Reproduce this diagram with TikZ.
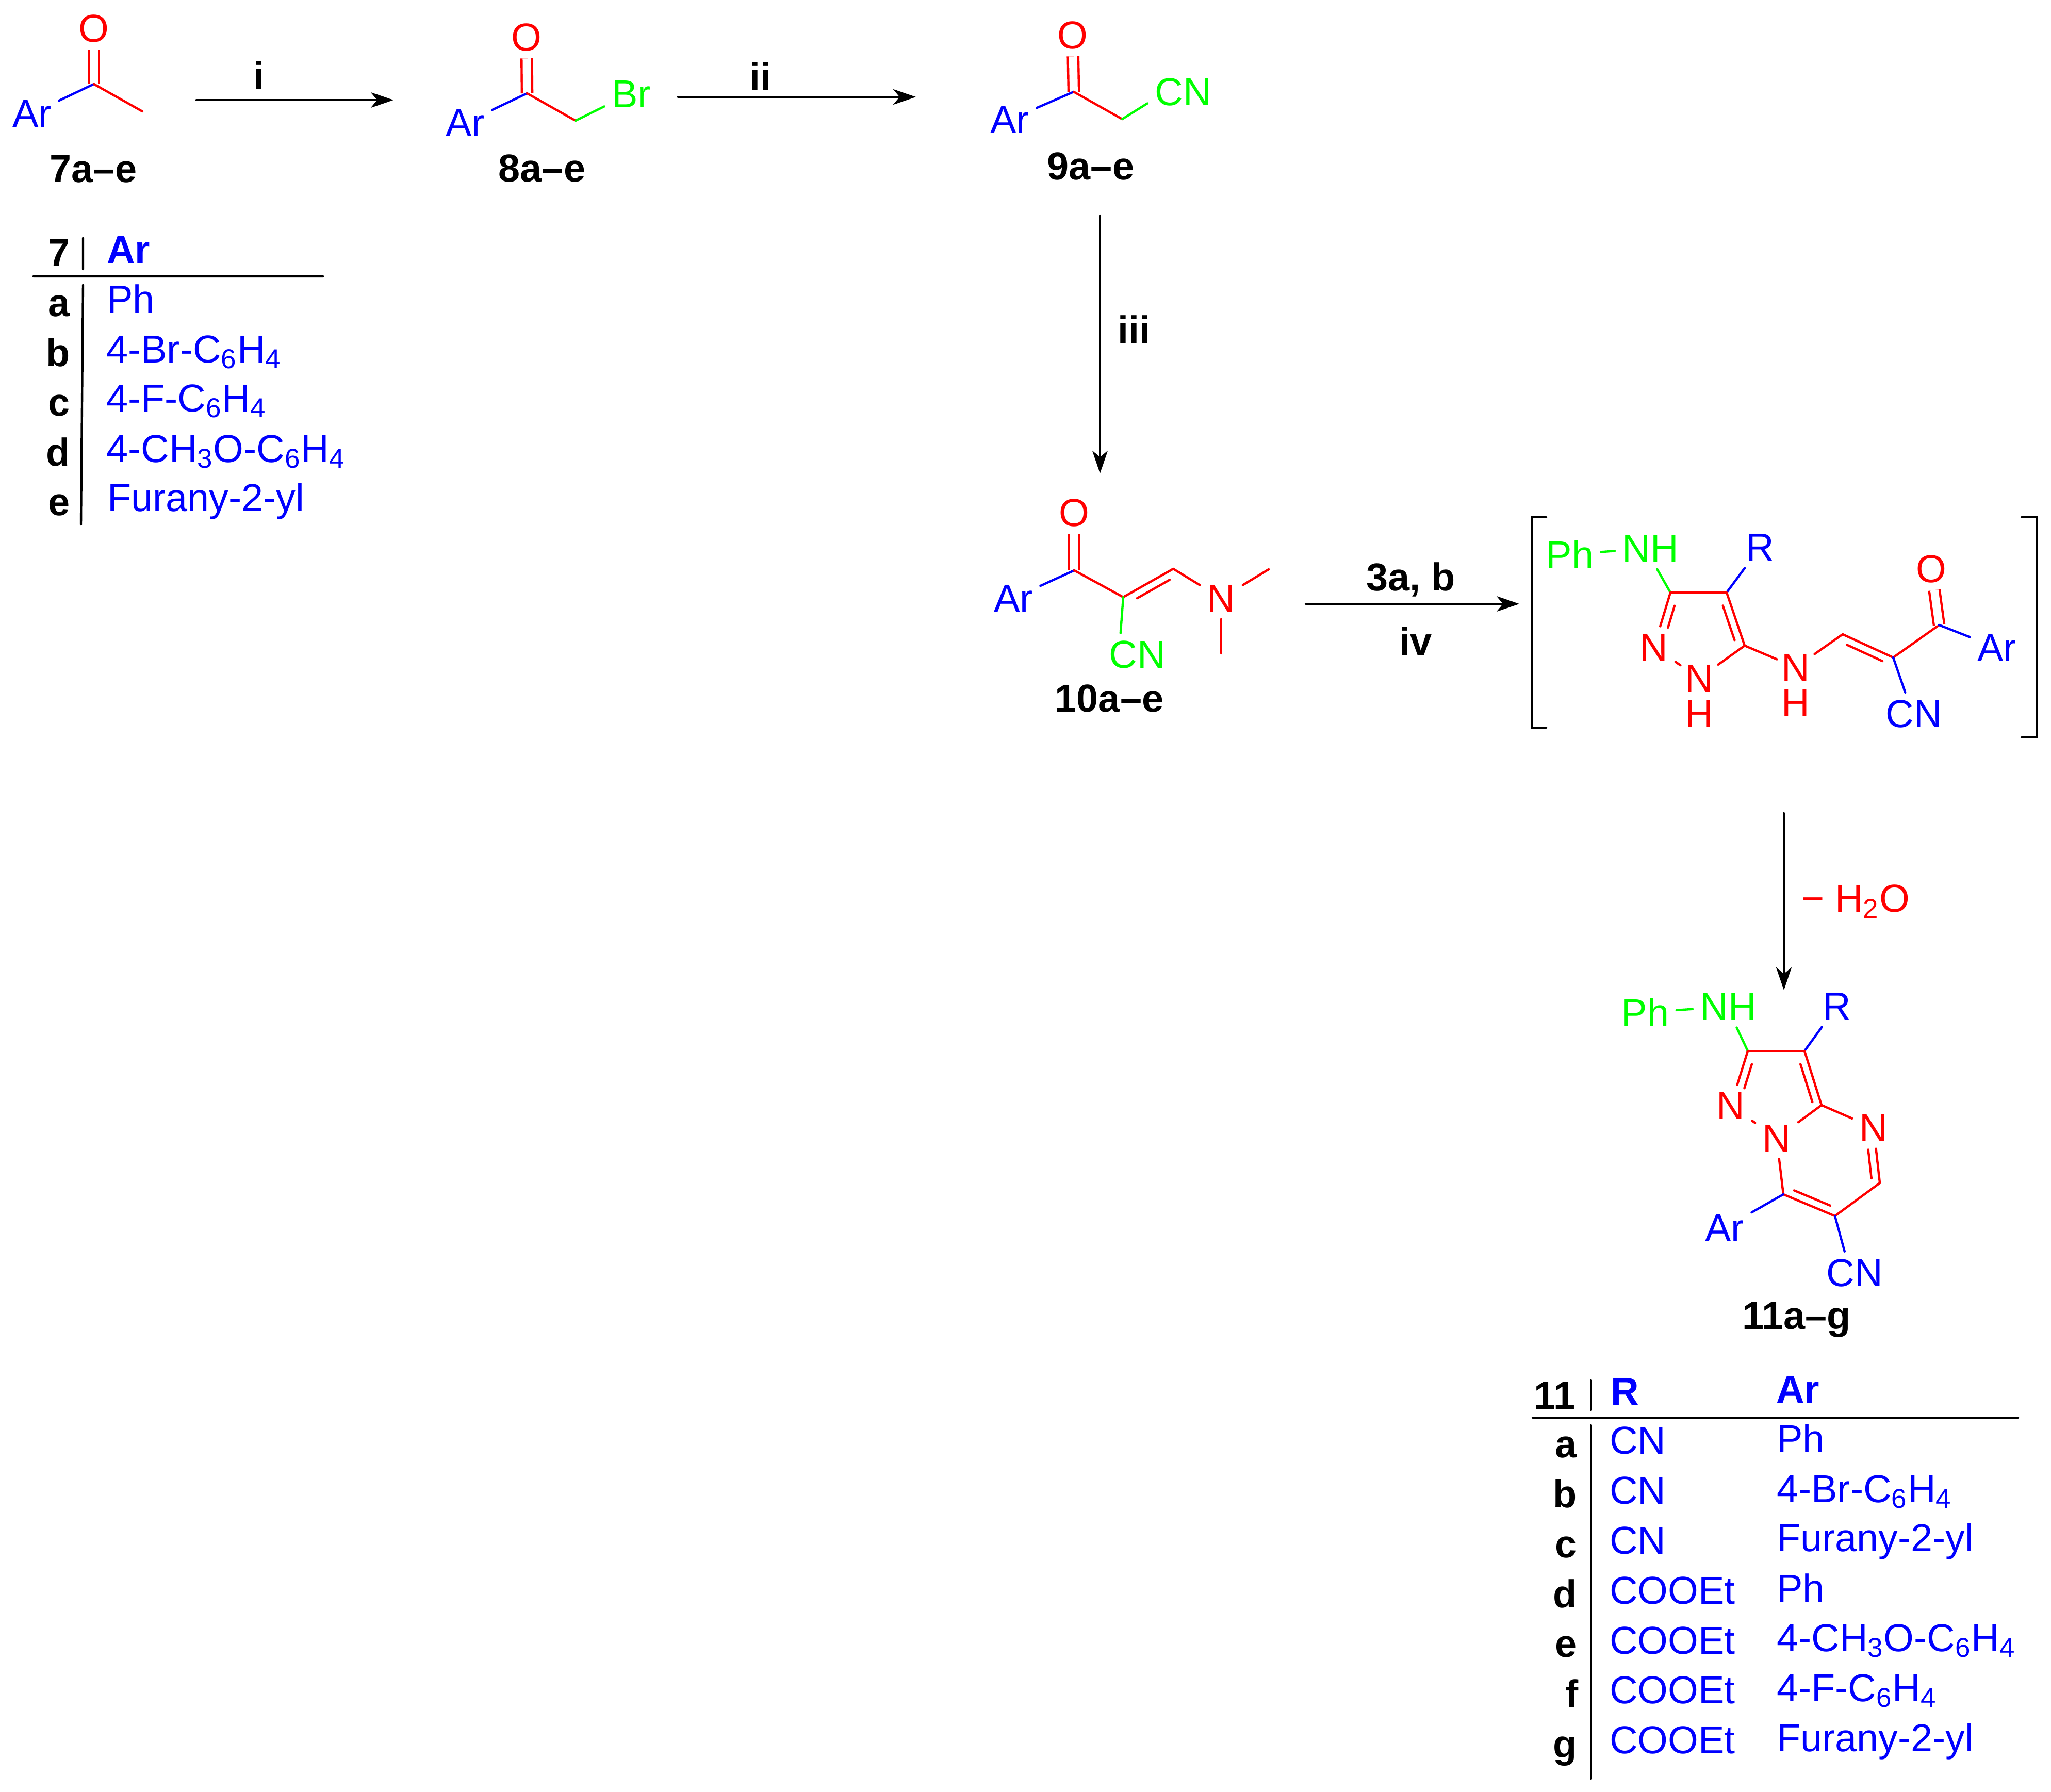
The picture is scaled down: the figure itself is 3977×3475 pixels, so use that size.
\documentclass[tikz,border=0pt]{standalone}
\usepackage{fontspec}
\setmainfont{Liberation Sans}
\usepackage{tikz}
\usetikzlibrary{arrows.meta}
\usetikzlibrary{calc}
\newcommand{\innerbond}[5]{\draw[red] ($(#1)!#3!(#2)!#5!90:(#2)$) -- ($(#1)!#4!(#2)!#5!90:(#2)$);}
\newcommand{\sbs}[1]{\textsubscript{#1}}
\tikzset{
  every node/.style={font=\fontsize{21.5}{24}\selectfont},
  labred/.style={text=red,inner sep=3.5pt},
  labblue/.style={text=blue,inner sep=3.5pt},
  labgreen/.style={text=green,inner sep=3.5pt},
  labnh/.style={text=red,inner sep=2pt},
  labh/.style={text=red,inner sep=0pt},
  cpd/.style={font=\fontsize{21.5}{24}\selectfont\bfseries,inner sep=0pt},
  tabkey/.style={font=\fontsize{21.5}{24}\selectfont\bfseries,anchor=base east,inner sep=0pt},
  tabhead/.style={font=\fontsize{21.5}{24}\selectfont\bfseries,text=blue,anchor=base west,inner sep=0pt},
  tabtext/.style={text=blue,anchor=base west,inner sep=0pt},
  rxn/.style={->,>={Stealth[length=12.5pt,width=8.5pt,inset=3.5pt]}},
  dbl/.style={double,double distance=4.5pt,line cap=butt}
}
\begin{document}
\begin{tikzpicture}[x=0.01cm,y=-0.01cm,line width=1.25pt,line cap=round]
  \useasboundingbox (0,0) rectangle (3977,3475);

  \coordinate (c7) at (182,163);
  \coordinate (m7) at (276,216);
  \node[labred]  (o7)  at (182,55)  {O};
  \node[labblue] (ar7) at (62,220)  {Ar};
  \node[cpd]     (n7)  at (181,328) {7a–e};
  \path (c7) edge[red,dbl] (o7) edge[blue] (ar7) edge[red] (m7);

  \coordinate (c8) at (1022,181);
  \coordinate (m8) at (1116,234);
  \node[labred]   (o8)  at (1021,72)  {O};
  \node[labblue]  (ar8) at (902,238)  {Ar};
  \node[labgreen] (br8) at (1224,182) {Br};
  \node[cpd]      (n8)  at (1051,326) {8a–e};
  \path (c8) edge[red,dbl] (o8) edge[blue] (ar8) edge[red] (m8) (m8) edge[green] (br8.205);

  \coordinate (c9) at (2082,178);
  \coordinate (m9) at (2176,231);
  \node[labred]   (o9)  at (2080,68)   {O};
  \node[labblue]  (ar9) at (1958,232)  {Ar};
  \node[labgreen] (cn9) at (2294,178)  {CN};
  \node[cpd]      (n9)  at (2115,322)  {9a–e};
  \path (c9) edge[red,dbl] (o9) edge[blue] (ar9) edge[red] (m9) (m9) edge[green] (cn9.198);

  \coordinate (c10)  at (2083,1106);
  \coordinate (d10)  at (2178,1158);
  \coordinate (e10)  at (2275,1103);
  \coordinate (m10a) at (2460,1104);
  \coordinate (m10b) at (2368,1267);
  \node[labred]   (o10)  at (2083,994)  {O};
  \node[labblue]  (ar10) at (1965,1160) {Ar};
  \node[labred]   (na10) at (2368,1160) {N};
  \node[labgreen] (cn10) at (2205,1269) {CN};
  \node[cpd]      (n10)  at (2151,1354) {10a–e};
  \path (c10) edge[red,dbl] (o10) edge[blue] (ar10) edge[red] (d10)
        (d10) edge[red] (e10) edge[green] (cn10.128)
        (e10) edge[red] (na10)
        (na10) edge[red] (m10a) edge[red] (m10b);
  \innerbond{d10}{e10}{.2}{.85}{-4.3pt}

  \coordinate (c3x)  at (3239,1149);
  \coordinate (c4x)  at (3348,1149);
  \coordinate (c5x)  at (3383,1252);
  \coordinate (ex)   at (3573,1230);
  \coordinate (dx)   at (3671,1275);
  \coordinate (cx)   at (3760,1212);
  \node[labgreen] (phx) at (3044,1075) {Ph};
  \node[labgreen] (nhx) at (3200,1063) {NH};
  \node[labblue]  (rx)  at (3413,1061) {R};
  \node[labred]   (n2x) at (3207,1255) {N};
  \node[labnh]    (n1x) at (3295,1315) {N};
  \node[labh]     (h1x) at (3295,1384) {H};
  \node[labnh]    (nax) at (3482,1294) {N};
  \node[labh]     (hax) at (3482,1363) {H};
  \node[labred]   (ox)  at (3745,1103) {O};
  \node[labblue]  (arx) at (3872,1256) {Ar};
  \node[labblue]  (cnx) at (3711,1384) {CN};
  \path (phx) edge[green] (nhx)
        (c3x) edge[green] (nhx.-72) edge[red] (c4x) edge[red] (n2x)
        (c4x) edge[blue] (rx) edge[red] (c5x)
        (c5x) edge[red] (n1x) edge[red] (nax)
        (n2x) edge[red] (n1x)
        (nax) edge[red] (ex)
        (ex) edge[red] (dx)
        (dx) edge[red] (cx) edge[blue] (cnx.112)
        (cx) edge[red,dbl] (ox) edge[blue] (arx);
  \innerbond{c3x}{n2x}{.2}{.6}{4.3pt}
  \innerbond{c4x}{c5x}{.2}{.85}{-4.3pt}
  \innerbond{ex}{dx}{.15}{.85}{-4.3pt}

  \coordinate (blt) at (2998,1003);
  \coordinate (blu) at (2971,1003);
  \coordinate (bld) at (2971,1411);
  \coordinate (blb) at (2998,1411);
  \coordinate (brt) at (3920,1003);
  \coordinate (bru) at (3950,1003);
  \coordinate (brd) at (3950,1430);
  \coordinate (brb) at (3920,1430);
  \draw (blt) -- (blu) -- (bld) -- (blb);
  \draw (brt) -- (bru) -- (brd) -- (brb);

  \coordinate (c3y)  at (3389,2038);
  \coordinate (c4y)  at (3499,2038);
  \coordinate (c5y)  at (3532,2143);
  \coordinate (c6y)  at (3645,2294);
  \coordinate (c7y)  at (3558,2358);
  \coordinate (c8y)  at (3458,2316);
  \node[labgreen] (phy) at (3190,1963) {Ph};
  \node[labgreen] (nhy) at (3351,1952) {NH};
  \node[labblue]  (ry)  at (3562,1951) {R};
  \node[labred]   (n2y) at (3356,2144) {N};
  \node[labred]   (n1y) at (3445,2207) {N};
  \node[labred]   (n3y) at (3633,2187) {N};
  \node[labblue]  (ary) at (3344,2381) {Ar};
  \node[labblue]  (cny) at (3596,2468) {CN};
  \node[cpd]      (n11) at (3484,2559) {11a–g};
  \path (phy) edge[green] (nhy)
        (c3y) edge[green] (nhy.-68) edge[red] (c4y) edge[red] (n2y)
        (c4y) edge[blue] (ry) edge[red] (c5y)
        (c5y) edge[red] (n1y) edge[red] (n3y)
        (n2y) edge[red] (n1y)
        (n3y) edge[red] (c6y)
        (c6y) edge[red] (c7y)
        (c7y) edge[red] (c8y) edge[blue] (cny.115)
        (c8y) edge[red] (n1y) edge[blue] (ary);
  \innerbond{c3y}{n2y}{.2}{.64}{4.3pt}
  \innerbond{c4y}{c5y}{.2}{.9}{-4.3pt}
  \innerbond{n3y}{c6y}{.38}{.9}{-4.3pt}
  \innerbond{c8y}{c7y}{.15}{.85}{4.3pt}

  \coordinate (a1s) at (381,194);
  \coordinate (a1e) at (763,194);
  \coordinate (a2s) at (1315,188);
  \coordinate (a2e) at (1776,188);
  \coordinate (a3s) at (2133,418);
  \coordinate (a3e) at (2133,918);
  \coordinate (a4s) at (2532,1171);
  \coordinate (a4e) at (2946,1171);
  \coordinate (a5s) at (3459,1577);
  \coordinate (a5e) at (3459,1920);
  \path[rxn] (a1s) edge (a1e) (a2s) edge (a2e) (a3s) edge (a3e) (a4s) edge (a4e) (a5s) edge (a5e);
  \node[cpd] (ti)   at (502,146)   {i};
  \node[cpd] (tii)  at (1474,148)  {ii};
  \node[cpd] (tiii) at (2199,639)  {iii};
  \node[cpd] (t3ab) at (2736,1124) {3a, b};
  \node[cpd] (tiv)  at (2745,1243) {iv};
  \node[labred,anchor=west,inner sep=0pt] (twat) at (3491,1748) {− H\sbs{2}O};

  \coordinate (t7a) at (161,462);
  \coordinate (t7b) at (161,522);
  \coordinate (t7c) at (161,553);
  \coordinate (t7d) at (157,1017);
  \coordinate (t7e) at (65,536);
  \coordinate (t7f) at (626,536);
  \draw (t7a) -- (t7b) (t7c) -- (t7d) (t7e) -- (t7f);
  \node[tabkey]  (k7)  at (138,516)  {7};
  \node[tabhead] (h7)  at (205,510)  {Ar};
  \node[tabkey]  (k7a) at (138,613)  {a};
  \node[tabkey]  (k7b) at (138,710)  {b};
  \node[tabkey]  (k7c) at (138,806)  {c};
  \node[tabkey]  (k7d) at (138,903)  {d};
  \node[tabkey]  (k7e) at (138,999)  {e};
  \node[tabtext] (r7a) at (205,606)  {Ph};
  \node[tabtext] (r7b) at (204,703)  {4-Br-C\sbs{6}H\sbs{4}};
  \node[tabtext] (r7c) at (204,798)  {4-F-C\sbs{6}H\sbs{4}};
  \node[tabtext] (r7d) at (204,896)  {4-CH\sbs{3}O-C\sbs{6}H\sbs{4}};
  \node[tabtext] (r7e) at (206,991)  {Furany-2-yl};

  \coordinate (t11a) at (3085,2677);
  \coordinate (t11b) at (3085,2734);
  \coordinate (t11c) at (3085,2764);
  \coordinate (t11d) at (3085,3449);
  \coordinate (t11e) at (2972,2749);
  \coordinate (t11f) at (3913,2749);
  \draw (t11a) -- (t11b) (t11c) -- (t11d) (t11e) -- (t11f);
  \node[tabkey]  (k11)  at (3057,2732) {11};
  \node[tabhead] (hr11) at (3121,2724) {R};
  \node[tabhead] (ha11) at (3442,2720) {Ar};
  \node[tabkey]  (k11a) at (3060,2826) {a};
  \node[tabkey]  (k11b) at (3060,2923) {b};
  \node[tabkey]  (k11c) at (3060,3020) {c};
  \node[tabkey]  (k11d) at (3060,3117) {d};
  \node[tabkey]  (k11e) at (3060,3213) {e};
  \node[tabkey]  (k11f) at (3063,3311) {f};
  \node[tabkey]  (k11g) at (3060,3408) {g};
  \node[tabtext] (s11a) at (3119,2819) {CN};
  \node[tabtext] (s11b) at (3119,2916) {CN};
  \node[tabtext] (s11c) at (3119,3013) {CN};
  \node[tabtext] (s11d) at (3119,3110) {COOEt};
  \node[tabtext] (s11e) at (3119,3207) {COOEt};
  \node[tabtext] (s11f) at (3119,3303) {COOEt};
  \node[tabtext] (s11g) at (3119,3400) {COOEt};
  \node[tabtext] (r11a) at (3443,2816) {Ph};
  \node[tabtext] (r11b) at (3443,2913) {4-Br-C\sbs{6}H\sbs{4}};
  \node[tabtext] (r11c) at (3443,3008) {Furany-2-yl};
  \node[tabtext] (r11d) at (3443,3106) {Ph};
  \node[tabtext] (r11e) at (3443,3202) {4-CH\sbs{3}O-C\sbs{6}H\sbs{4}};
  \node[tabtext] (r11f) at (3443,3299) {4-F-C\sbs{6}H\sbs{4}};
  \node[tabtext] (r11g) at (3443,3396) {Furany-2-yl};
\end{tikzpicture}
\end{document}
